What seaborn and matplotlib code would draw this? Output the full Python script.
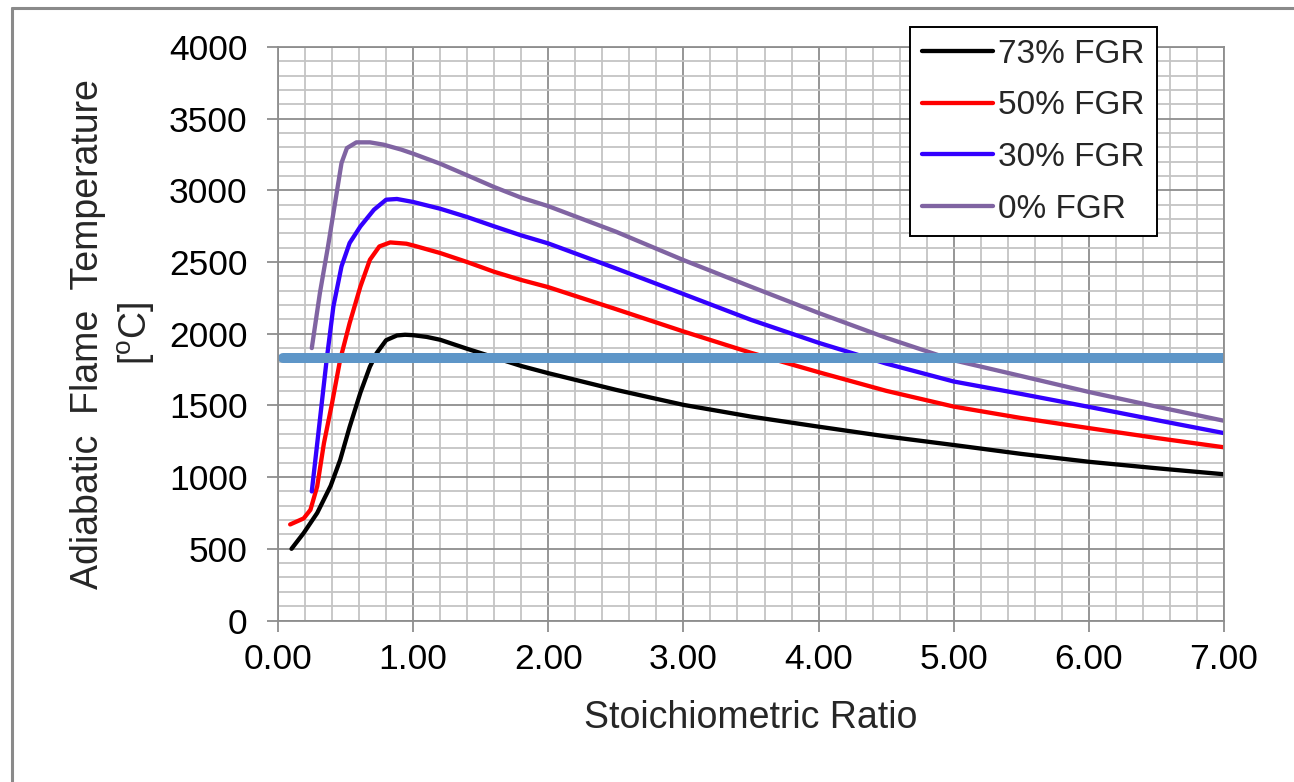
import numpy as np
import pandas as pd
import matplotlib
matplotlib.use("Agg")
import matplotlib.pyplot as plt
from matplotlib.ticker import MultipleLocator, FormatStrFormatter
from matplotlib.lines import Line2D
import seaborn as sns

# ---------------- data ----------------
series_labels = ["73% FGR", "50% FGR", "30% FGR", "0% FGR"]
series_colors = ["#000000", "#FF0000", "#3300FF", "#8064A2"]

x_73 = [0.10, 0.19, 0.29, 0.39, 0.46, 0.53, 0.61, 0.68, 0.73, 0.80, 0.88, 0.94,
        1.00, 1.10, 1.20, 1.40, 1.60, 1.80, 2.00, 2.50, 3.00, 3.50, 4.00, 4.50,
        5.00, 5.50, 6.00, 6.50, 7.00]
y_73 = [500, 610, 750, 940, 1120, 1350, 1590, 1770, 1865, 1955, 1988, 1993,
        1990, 1978, 1958, 1895, 1835, 1775, 1725, 1609, 1504, 1422, 1352, 1284,
        1224, 1162, 1107, 1062, 1020]

x_50 = [0.09, 0.19, 0.24, 0.29, 0.34, 0.40, 0.46, 0.53, 0.61, 0.68, 0.75, 0.83,
        0.95, 1.00, 1.20, 1.40, 1.60, 1.80, 2.00, 2.50, 3.00, 3.50, 4.00, 4.50,
        5.00, 5.50, 6.00, 6.50, 7.00]
y_50 = [670, 712, 772, 935, 1237, 1516, 1819, 2074, 2330, 2516, 2609, 2637,
        2628, 2616, 2563, 2500, 2432, 2375, 2325, 2172, 2016, 1867, 1732, 1602,
        1492, 1412, 1342, 1273, 1208]

x_30 = [0.25, 0.31, 0.36, 0.41, 0.47, 0.53, 0.61, 0.71, 0.80, 0.88, 1.00, 1.20,
        1.40, 1.60, 1.80, 2.00, 2.50, 3.00, 3.50, 4.00, 4.50, 5.00, 5.50, 6.00,
        6.50, 7.00]
y_30 = [900, 1400, 1819, 2191, 2470, 2633, 2749, 2865, 2935, 2940, 2919, 2872,
        2814, 2749, 2686, 2630, 2456, 2277, 2097, 1937, 1792, 1667, 1580, 1490,
        1398, 1307]

x_0 = [0.25, 0.31, 0.37, 0.43, 0.47, 0.51, 0.58, 0.68, 0.78, 0.91, 1.00, 1.20,
       1.40, 1.60, 1.80, 2.00, 2.50, 3.00, 3.50, 4.00, 4.50, 5.00, 5.50, 6.00,
       6.50, 7.00]
y_0 = [1900, 2284, 2609, 2958, 3191, 3295, 3335, 3335, 3319, 3285, 3256, 3186,
       3105, 3023, 2949, 2890, 2712, 2514, 2328, 2145, 1972, 1815, 1705, 1594,
       1492, 1393]

limit_x = [0.04, 7.00]
limit_y = [1830, 1830]

x_ticks = [0, 1, 2, 3, 4, 5, 6, 7]
y_ticks = [0, 500, 1000, 1500, 2000, 2500, 3000, 3500, 4000]

# ---------------- build table ----------------
frames = []
for lab, xs, ys in zip(series_labels, [x_73, x_50, x_30, x_0], [y_73, y_50, y_30, y_0]):
    frames.append(pd.DataFrame({"x": xs, "y": ys, "series": lab}))
df = pd.concat(frames, ignore_index=True)
df_limit = pd.DataFrame({"x": limit_x, "y": limit_y})

# ---------------- style ----------------
sns.set_style("white")
plt.rcParams["font.family"] = ["Liberation Sans", "DejaVu Sans"]
plt.rcParams["mathtext.fontset"] = "custom"
plt.rcParams["mathtext.rm"] = "Liberation Sans"

W, H = 1294, 782
fig = plt.figure(figsize=(W / 100, H / 100), dpi=100)
ax = fig.add_axes([278 / W, 1 - 620.5 / H, (1224 - 278) / W, (620.5 - 47) / H])

sns.lineplot(data=df, x="x", y="y", hue="series", hue_order=series_labels,
             palette=dict(zip(series_labels, series_colors)), estimator=None,
             sort=False, linewidth=3.1, ax=ax, legend=True)
for ln in ax.get_lines():
    ln.set_solid_capstyle("round")
    ln.set_solid_joinstyle("round")

sns.lineplot(data=df_limit, x="x", y="y", color="#5E96C8", linewidth=7.2,
             estimator=None, ax=ax, legend=False)

ax.set_xlim(0, 7)
ax.set_ylim(0, 4000)
ax.set_xticks(x_ticks)
ax.set_yticks(y_ticks)
ax.xaxis.set_major_formatter(FormatStrFormatter("%.2f"))
ax.xaxis.set_minor_locator(MultipleLocator(0.2))
ax.yaxis.set_minor_locator(MultipleLocator(100))

ax.grid(which="minor", color="#C4C4C4", linewidth=1.3, zorder=0)
ax.grid(which="major", color="#8E8E8E", linewidth=1.3, zorder=0)
ax.set_axisbelow(True)

for s in ax.spines.values():
    s.set_color("#8E8E8E")
    s.set_linewidth(1.3)

ax.tick_params(axis="both", which="major", labelsize=25.5, colors="#8E8E8E",
               labelcolor="black", length=8, width=1.3, direction="out")
ax.tick_params(axis="y", which="major", pad=14, left=True)
ax.tick_params(axis="x", which="major", pad=8, bottom=True)
ax.tick_params(which="minor", length=0)

ax.set_xlabel("Stoichiometric Ratio", fontsize=27)
ax.xaxis.set_label_coords(0.5, -0.138)
ax.set_ylabel("Adiabatic  Flame  Temperature\n[$^\\mathregular{o}$C]", fontsize=27,
              linespacing=1.3, multialignment="center")
ax.yaxis.set_label_coords(-0.128, 0.5)

handles, labels = ax.get_legend_handles_labels()
leg = ax.legend(handles[:4], labels[:4], loc="upper left",
                bbox_to_anchor=(910 / W, 1 - 27 / H), bbox_transform=fig.transFigure,
                borderaxespad=0, fontsize=24, frameon=True, fancybox=False,
                framealpha=1, edgecolor="black", handlelength=2.15,
                handletextpad=0.15, labelspacing=0.62, borderpad=0.35)
leg.get_frame().set_linewidth(1.4)
for h in leg.get_lines():
    h.set_linewidth(3.1)

# outer chart border (left and top edges visible in the reference)
fig.add_artist(Line2D([12 / W, 12 / W], [0, 1 - 8 / H], transform=fig.transFigure,
                      color="#8A8A8A", linewidth=2.2))
fig.add_artist(Line2D([12 / W, 1], [1 - 8 / H, 1 - 8 / H], transform=fig.transFigure,
                      color="#8A8A8A", linewidth=2.2))

fig.savefig("out.png", dpi=100, facecolor="white")
